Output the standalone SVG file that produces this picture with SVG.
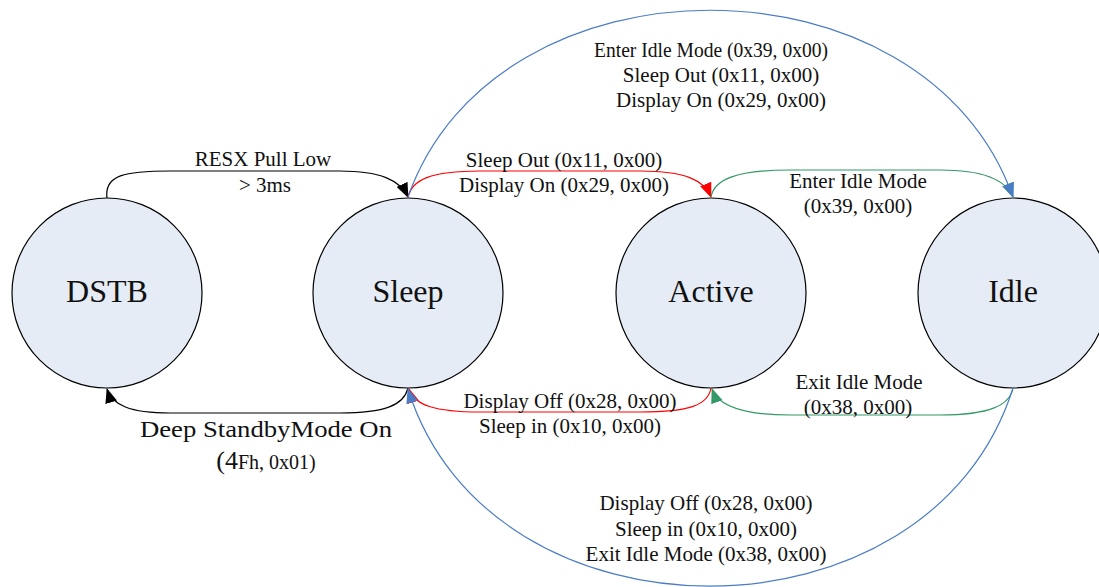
<svg xmlns="http://www.w3.org/2000/svg" width="1099" height="587" viewBox="0 0 1099 587">
<style>
.node{fill:#E6ECF6;stroke:#000;stroke-width:1.2}
.nl{font-family:'Liberation Serif','DejaVu Serif',serif;font-size:32px;fill:#111;text-anchor:middle}
.lb{font-family:'Liberation Serif','DejaVu Serif',serif;font-size:21px;fill:#111;text-anchor:middle}
.c{fill:none;stroke-width:1.2}
.k{stroke:#000}.r{stroke:#FF0000}.g{stroke:#339966}.b{stroke:#4A7CC6}
</style>
<defs>
<marker id="ak" markerUnits="userSpaceOnUse" markerWidth="15" markerHeight="12" viewBox="0 0 15 12" refX="14" refY="6" orient="auto"><path d="M0,0 L15,6 L0,12 z" fill="#000"/></marker>
<marker id="ar" markerUnits="userSpaceOnUse" markerWidth="15" markerHeight="12" viewBox="0 0 15 12" refX="14" refY="6" orient="auto"><path d="M0,0 L15,6 L0,12 z" fill="#FF0000"/></marker>
<marker id="ag" markerUnits="userSpaceOnUse" markerWidth="15" markerHeight="12" viewBox="0 0 15 12" refX="14" refY="6" orient="auto"><path d="M0,0 L15,6 L0,12 z" fill="#339966"/></marker>
<marker id="ab" markerUnits="userSpaceOnUse" markerWidth="15" markerHeight="12" viewBox="0 0 15 12" refX="14" refY="6" orient="auto"><path d="M0,0 L15,6 L0,12 z" fill="#4A7CC6"/></marker>
</defs>
<rect width="1099" height="587" fill="#fff"/>
<g id="node-dstb"><circle class="node" cx="107" cy="293" r="95"/><text class="nl" x="107" y="302">DSTB</text></g>
<g id="node-sleep"><circle class="node" cx="408" cy="293" r="95"/><text class="nl" x="408" y="302">Sleep</text></g>
<g id="node-active"><circle class="node" cx="711" cy="293" r="95"/><text class="nl" x="711" y="302">Active</text></g>
<g id="node-idle"><circle class="node" cx="1013" cy="293" r="95"/><text class="nl" x="1013" y="302">Idle</text></g>
<g id="connectors">
<path class="c k" d="M107,198 C104,175 125,171 170,171 L340,171 C380,171 400,180 408,197" marker-end="url(#ak)"/>
<path class="c r" d="M408,197 C412,180 430,171 480,171 L640,171 C685,171 704,180 711,197" marker-end="url(#ar)"/>
<path class="c g" d="M711,197 C714,180 735,170 790,170 L940,170 C985,170 1006,180 1013,197" marker-end="url(#ag)"/>
<path class="c b" d="M408,197 C495,-52 925,-52 1013,197" marker-end="url(#ab)"/>
<path class="c k" d="M408,388 C404,405 385,413 340,413 L170,413 C130,413 112,405 107,389" marker-end="url(#ak)"/>
<path class="c r" d="M711,388 C708,405 690,412 640,412 L480,412 C435,412 414,405 409,389" marker-end="url(#ar)"/>
<path class="c g" d="M1013,388 C1010,405 990,415 940,415 L790,415 C740,415 718,405 712,389" marker-end="url(#ag)"/>
<path class="c b" d="M1013,388 C930,652 490,652 408,389" marker-end="url(#ab)"/>
</g>
<g id="labels">
<text class="lb" x="263" y="166">RESX Pull Low</text>
<text class="lb" x="265" y="192">&gt; 3ms</text>
<text class="lb" x="564" y="167">Sleep Out (0x11, 0x00)</text>
<text class="lb" x="564" y="192">Display On (0x29, 0x00)</text>
<text class="lb" x="858" y="188">Enter Idle Mode</text>
<text class="lb" x="858" y="213">(0x39, 0x00)</text>
<text class="lb" x="711" y="57" textLength="234" lengthAdjust="spacingAndGlyphs">Enter Idle Mode (0x39, 0x00)</text>
<text class="lb" x="721" y="82">Sleep Out (0x11, 0x00)</text>
<text class="lb" x="721" y="107">Display On (0x29, 0x00)</text>
<text class="lb" x="266" y="437" style="font-size:24px" textLength="252" lengthAdjust="spacingAndGlyphs">Deep StandbyMode On</text>
<text class="lb" x="266" y="469"><tspan style="font-size:26px">(4</tspan><tspan style="font-size:20px">Fh, 0x01)</tspan></text>
<text class="lb" x="570" y="408">Display Off (0x28, 0x00)</text>
<text class="lb" x="570" y="433">Sleep in (0x10, 0x00)</text>
<text class="lb" x="859" y="389">Exit Idle Mode</text>
<text class="lb" x="858" y="414">(0x38, 0x00)</text>
<text class="lb" x="706" y="510">Display Off (0x28, 0x00)</text>
<text class="lb" x="706" y="536">Sleep in (0x10, 0x00)</text>
<text class="lb" x="706" y="561">Exit Idle Mode (0x38, 0x00)</text>
</g>
</svg>
